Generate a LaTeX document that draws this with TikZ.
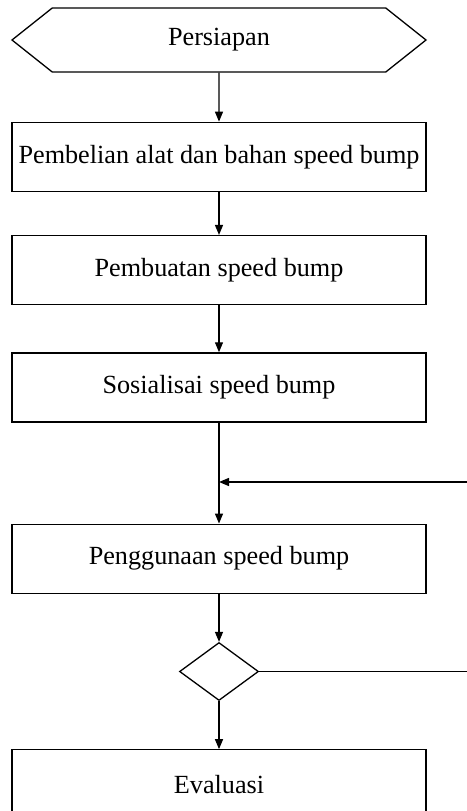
\documentclass[tikz,border=0pt]{standalone}
\usepackage{fontspec}
\setmainfont{Liberation Serif}
\usetikzlibrary{positioning,shapes.geometric,shapes.symbols,arrows.meta}
\begin{document}
\begin{tikzpicture}[
		x=1pt,y=1pt,
		font=\fontsize{26.2}{31}\selectfont,
		line width=1.3pt,
		box/.style={rectangle,draw,minimum width=414pt,minimum height=69pt,inner sep=0pt},
		start/.style={signal,signal to=west and east,signal pointer angle=77,draw,minimum width=414pt,minimum height=64pt,inner sep=0pt},
		decision/.style={diamond,draw,minimum width=79pt,minimum height=58pt,inner sep=0pt,aspect=1.36},
		arrow/.style={-{Triangle[length=10pt,width=8pt]}}
	]
	\useasboundingbox (0,0) rectangle (466,-811);
	\node[start] (persiapan) at (219,-40) {Persiapan};
	\node[box,below=49pt of persiapan] (pembelian) {Pembelian alat dan bahan speed bump};
	\node[box,below=43pt of pembelian] (pembuatan) {Pembuatan speed bump};
	\node[box,below=47pt of pembuatan] (sosialisasi) {Sosialisai speed bump};
	\node[box,below=101pt of sosialisasi] (penggunaan) {Penggunaan speed bump};
	\node[decision,below=48pt of penggunaan] (keputusan) {};
	\node[box,below=48pt of keputusan] (evaluasi) {Evaluasi};
	\coordinate (balik) at (470,-482);
	\draw[arrow] (persiapan) -- (pembelian);
	\draw[arrow] (pembelian) -- (pembuatan);
	\draw[arrow] (pembuatan) -- (sosialisasi);
	\draw[arrow] (sosialisasi) -- (penggunaan);
	\draw[arrow] (balik) -- (balik -| penggunaan.north);
	\draw[arrow] (penggunaan) -- (keputusan);
	\draw (keputusan.east) -- (keputusan.east -| balik);
	\draw[arrow] (keputusan) -- (evaluasi);
\end{tikzpicture}
\end{document}
